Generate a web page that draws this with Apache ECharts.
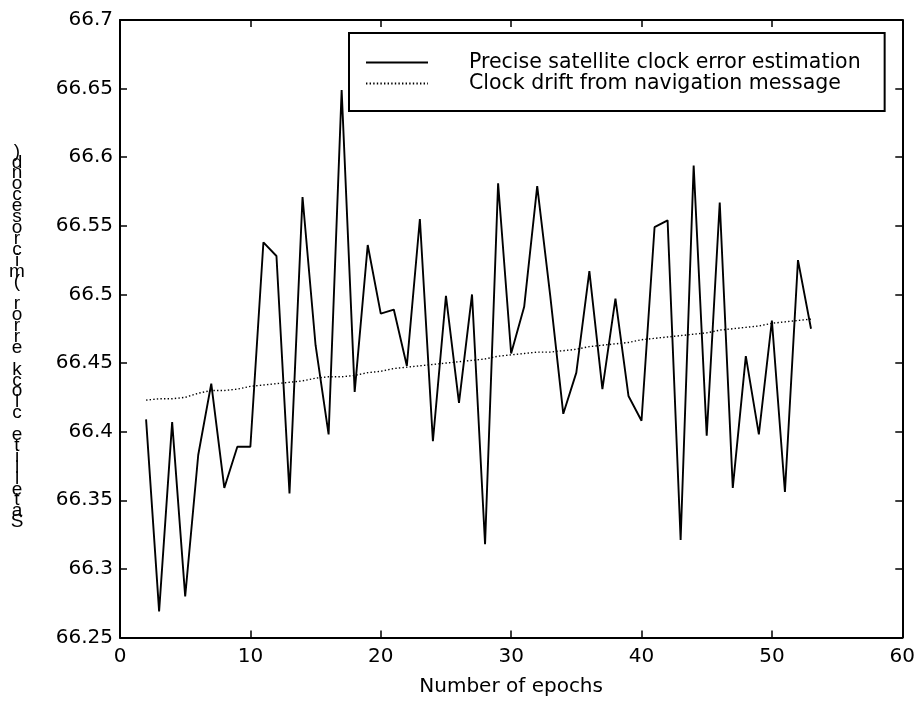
<!DOCTYPE html>
<html>
<head>
<meta charset="utf-8">
<script src="https://cdn.jsdelivr.net/npm/echarts@6/dist/echarts.min.js"></script>
<style>html,body{margin:0;padding:0;background:#fff;}#chart{width:918px;height:703px;}</style>
</head>
<body>
<div id="chart"></div>
<script>
const epochs = [2,3,4,5,6,7,8,9,10,11,12,13,14,15,16,17,18,19,20,21,22,23,24,25,26,27,28,29,30,31,32,33,34,35,36,37,38,39,40,41,42,43,44,45,46,47,48,49,50,51,52,53];
const preciseClock = [66.409,66.269,66.407,66.280,66.383,66.435,66.359,66.389,66.389,66.538,66.528,66.355,66.571,66.463,66.398,66.649,66.429,66.536,66.486,66.489,66.448,66.555,66.393,66.499,66.421,66.500,66.318,66.581,66.457,66.491,66.579,66.499,66.413,66.443,66.517,66.431,66.497,66.426,66.408,66.549,66.554,66.321,66.594,66.397,66.567,66.359,66.455,66.398,66.481,66.356,66.525,66.475];
const navDrift = [66.423,66.424,66.424,66.425,66.428,66.430,66.430,66.431,66.433,66.434,66.435,66.436,66.437,66.439,66.440,66.440,66.441,66.443,66.444,66.446,66.447,66.448,66.449,66.450,66.451,66.452,66.453,66.455,66.456,66.457,66.458,66.458,66.459,66.460,66.462,66.463,66.464,66.465,66.467,66.468,66.469,66.470,66.471,66.472,66.474,66.475,66.476,66.477,66.479,66.480,66.481,66.482];
const seriesNames = ['Precise satellite clock error estimation', 'Clock drift from navigation message'];
const xAxisName = 'Number of epochs';
const yAxisName = 'Satellite clock error (microsecond)';

const FONT = 'DejaVu Sans';
const chart = echarts.init(document.getElementById('chart'), null, {renderer: 'canvas'});
const pairs = (ys) => epochs.map((x, i) => [x, ys[i]]);
const fmtY = (v) => String(parseFloat(v.toFixed(2)));

const axisLine = {show: true, onZero: false, lineStyle: {color: '#000', width: 2}};
const axisTick = {show: true, inside: true, length: 7, lineStyle: {color: '#000', width: 1.5}};

chart.setOption({
  animation: false,
  backgroundColor: '#fff',
  grid: {left: 120, right: 15, top: 20, bottom: 65.5, containLabel: false},
  xAxis: [{
    type: 'value', min: 0, max: 60, interval: 10, position: 'bottom',
    name: xAxisName, nameLocation: 'middle', nameGap: 39,
    nameTextStyle: {fontFamily: FONT, fontSize: 20, color: '#000'},
    axisLine: axisLine, axisTick: axisTick,
    axisLabel: {fontFamily: FONT, fontSize: 20, color: '#000', margin: 9},
    splitLine: {show: false}
  }, {
    type: 'value', min: 0, max: 60, interval: 10, position: 'top',
    axisLine: axisLine, axisTick: axisTick,
    axisLabel: {show: false}, splitLine: {show: false}
  }],
  yAxis: [{
    type: 'value', min: 66.25, max: 66.7, interval: 0.05, position: 'left',
    axisLine: axisLine, axisTick: axisTick,
    axisLabel: {fontFamily: FONT, fontSize: 20, color: '#000', margin: 7, formatter: fmtY},
    splitLine: {show: false}
  }, {
    type: 'value', min: 66.25, max: 66.7, interval: 0.05, position: 'right',
    axisLine: axisLine, axisTick: axisTick,
    axisLabel: {show: false}, splitLine: {show: false}
  }],
  legend: {
    orient: 'vertical', left: 349, top: 33,
    padding: [19, 24, 17, 16], itemGap: 0,
    itemWidth: 62, itemHeight: 14,
    borderColor: '#000', borderWidth: 2, borderRadius: 0,
    backgroundColor: '#fff',
    selectedMode: false,
    itemStyle: {opacity: 0},
    data: seriesNames,
    formatter: (name) => '{g|}' + name,
    textStyle: {fontFamily: FONT, fontSize: 20.5, lineHeight: 21, color: '#000',
      rich: {g: {width: 36}}}
  },
  graphic: [{
    type: 'text', x: 17, y: 146, silent: true,
    style: {
      text: yAxisName.split('').reverse().join('\n'),
      fontSize: 19, fontFamily: 'Liberation Sans', fill: '#000',
      align: 'center', verticalAlign: 'top', lineHeight: 10.9
    }
  }],
  series: [{
    name: seriesNames[0], type: 'line', data: pairs(preciseClock),
    showSymbol: false, symbol: 'none',
    lineStyle: {color: '#000', width: 1.9}, itemStyle: {color: '#000'}
  }, {
    name: seriesNames[1], type: 'line', data: pairs(navDrift),
    showSymbol: false, symbol: 'none',
    lineStyle: {color: '#000', width: 1.4, type: [1.4, 2.2]}, itemStyle: {color: '#000'}
  }]
});
</script>
</body>
</html>
